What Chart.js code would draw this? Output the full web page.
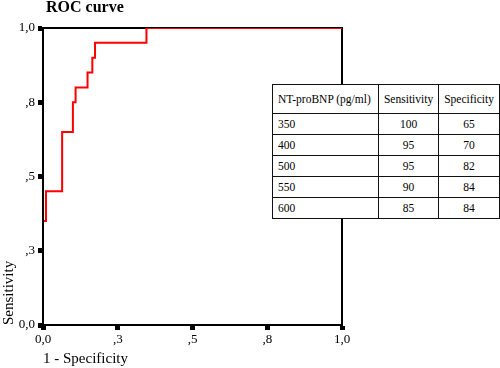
<!DOCTYPE html>
<html>
<head>
<meta charset="utf-8">
<script src="https://cdn.jsdelivr.net/npm/chart.js@4.4.0/dist/chart.umd.min.js"></script>
<style>
  body { margin: 0; background: #fff; }
  #wrap { position: relative; width: 500px; height: 368px; font-family: "Liberation Serif", "Times New Roman", serif; }
  #roc-title { position: absolute; left: 46px; top: -1px; font-size: 16px; line-height: 16px; font-weight: bold; color: #000; }
  #cutoff-table { position: absolute; left: 272px; top: 84px; width: 228px; border-collapse: collapse; background: #fff; font-size: 11.5px; color: #000; }
  #cutoff-table td { border: 1px solid #111; padding: 0 5px; height: 20px; text-align: center; }
  #cutoff-table tr:first-child td { height: 28px; }
  #cutoff-table td:first-child { text-align: left; width: 96px; }
</style>
</head>
<body>
<div id="wrap">
  <canvas id="roc-chart" width="500" height="368"></canvas>
  <div id="roc-title">ROC curve</div>
  <table id="cutoff-table"></table>
</div>
<script>
// --- DATA ---
const falsePositiveRate = [0, 0, 0.01, 0.064, 0.1, 0.109, 0.149, 0.165, 0.174, 0.346, 1];
const truePositiveRate = [0, 0.35, 0.45, 0.65, 0.75, 0.80, 0.85, 0.90, 0.95, 1, 1];

const tickValues = [0, 0.25, 0.5, 0.75, 1];
const tickLabels = ['0,0', ',3', ',5', ',8', '1,0'];

const tableHeader = ['NT-proBNP (pg/ml)', 'Sensitivity', 'Specificity'];
const cutoffs = [350, 400, 500, 550, 600];
const cutoffSensitivity = [100, 95, 95, 90, 85];
const cutoffSpecificity = [65, 70, 82, 84, 84];

// --- TABLE ---
const table = document.getElementById('cutoff-table');
let rows = '<tr>' + tableHeader.map(h => '<td>' + h + '</td>').join('') + '</tr>';
cutoffs.forEach((c, i) => {
    rows += '<tr><td>' + c + '</td><td>' + cutoffSensitivity[i] + '</td><td>' + cutoffSpecificity[i] + '</td></tr>';
});
table.innerHTML = rows;

// --- CHART ---
const serif = "'Liberation Serif', 'Times New Roman', serif";
Chart.defaults.font.family = serif;
Chart.defaults.color = '#000';

function tickLabel(value) {
    const i = tickValues.findIndex(v => Math.abs(v - value) < 1e-6);
    return i >= 0 ? tickLabels[i] : '';
}

// frame: top/right under the curve, left/bottom over it
const framePlugin = {
    id: 'frame',
    beforeDatasetsDraw(chart) {
        const { ctx, chartArea: a } = chart;
        ctx.save();
        ctx.strokeStyle = '#000';
        ctx.lineWidth = 2;
        ctx.strokeRect(a.left, a.top, a.right - a.left, a.bottom - a.top);
        ctx.restore();
    },
    afterDatasetsDraw(chart) {
        const { ctx, chartArea: a } = chart;
        ctx.save();
        ctx.strokeStyle = '#000';
        ctx.lineWidth = 2;
        ctx.beginPath();
        ctx.moveTo(a.left, a.top);
        ctx.lineTo(a.left, a.bottom);
        ctx.lineTo(a.right, a.bottom);
        ctx.stroke();
        ctx.restore();
    }
};

new Chart(document.getElementById('roc-chart'), {
    type: 'line',
    data: {
        datasets: [{
            label: 'ROC',
            data: falsePositiveRate.map((x, i) => ({ x: x, y: truePositiveRate[i] })),
            borderColor: '#ff0000',
            borderWidth: 2,
            pointRadius: 0,
            stepped: 'before',
            fill: false
        }]
    },
    options: {
        responsive: false,
        animation: false,
        layout: { padding: { top: 28, right: 158, left: 0, bottom: 0 } },
        plugins: {
            legend: { display: false },
            tooltip: { enabled: false }
        },
        scales: {
            x: {
                type: 'linear',
                min: 0,
                max: 1,
                afterFit: s => { s.height = 43; },
                afterBuildTicks: s => { s.ticks = tickValues.map(v => ({ value: v })); },
                ticks: { callback: tickLabel, font: { size: 13 }, padding: 2, maxRotation: 0 },
                grid: { drawOnChartArea: false, drawTicks: true, tickLength: 5, tickWidth: 5, tickColor: '#000' },
                border: { color: '#000', width: 2 },
                title: { display: true, text: '1 - Specificity', align: 'start', font: { size: 15 }, padding: 0 }
            },
            y: {
                type: 'linear',
                min: 0,
                max: 1,
                afterFit: s => { s.width = 43; },
                afterBuildTicks: s => { s.ticks = tickValues.map(v => ({ value: v })); },
                ticks: { callback: tickLabel, font: { size: 13 }, padding: 3 },
                grid: { drawOnChartArea: false, drawTicks: true, tickLength: 5, tickWidth: 5, tickColor: '#000' },
                border: { color: '#000', width: 2 },
                title: { display: true, text: 'Sensitivity', align: 'start', font: { size: 15 }, padding: 0 }
            }
        }
    },
    plugins: [framePlugin]
});
</script>
</body>
</html>
